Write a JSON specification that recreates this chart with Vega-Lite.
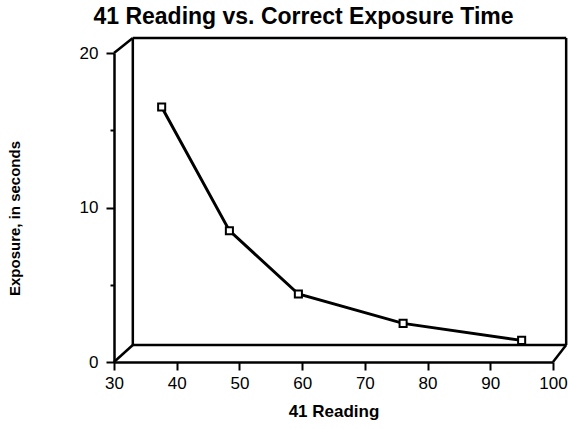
{
  "$schema": "https://vega.github.io/schema/vega-lite/v6.json",
  "width": 439,
  "height": 309,
  "autosize": "none",
  "padding": {"left": 114, "top": 53, "right": 15, "bottom": 67},
  "background": "white",
  "config": {"view": {"stroke": null}, "font": "Liberation Sans"},
  "title": {
    "text": "41 Reading vs. Correct Exposure Time",
    "font": "Liberation Sans",
    "fontSize": 23,
    "fontWeight": "bold",
    "color": "black",
    "anchor": "middle",
    "frame": "group",
    "baseline": "alphabetic",
    "offset": -10,
    "dx": -30
  },
  "datasets": {
    "frame": [
      {"x": 33, "y": 20.97, "x2": 102.1, "y2": 20.97},
      {"x": 102.1, "y": 20.97, "x2": 102.1, "y2": 1.1},
      {"x": 33, "y": 1.1, "x2": 102.1, "y2": 1.1},
      {"x": 33, "y": 1.1, "x2": 33, "y2": 20.97},
      {"x": 30, "y": 20, "x2": 33, "y2": 20.97},
      {"x": 30, "y": 0, "x2": 33, "y2": 1.1},
      {"x": 100, "y": 0, "x2": 102.1, "y2": 1.1}
    ],
    "points": [
      {"reading": 37.6, "exposure": 16.5},
      {"reading": 48.4, "exposure": 8.5},
      {"reading": 59.4, "exposure": 4.4},
      {"reading": 76.1, "exposure": 2.5},
      {"reading": 95.0, "exposure": 1.4}
    ]
  },
  "layer": [
    {
      "data": {"name": "frame"},
      "mark": {"type": "rule", "color": "black", "strokeWidth": 2.5},
      "encoding": {
        "x": {"field": "x", "type": "quantitative", "scale": {"domain": [30, 100], "nice": false, "zero": false}},
        "y": {"field": "y", "type": "quantitative", "scale": {"domain": [0, 20], "nice": false}},
        "x2": {"field": "x2"},
        "y2": {"field": "y2"}
      }
    },
    {
      "data": {"name": "points"},
      "mark": {"type": "line", "color": "black", "strokeWidth": 3},
      "encoding": {
        "x": {
          "field": "reading", "type": "quantitative",
          "axis": {
            "title": "41 Reading",
            "values": [30, 35, 40, 45, 50, 55, 60, 65, 70, 75, 80, 85, 90, 95, 100],
            "labelExpr": "datum.value % 10 === 0 ? datum.label : ''",
            "grid": false,
            "domainColor": "black",
            "domainWidth": 2.5,
            "tickColor": "black",
            "tickWidth": 2,
            "tickSize": {"condition": {"test": "datum.value % 10 === 0", "value": 8}, "value": 6},
            "labelFont": "Liberation Sans",
            "labelFontSize": 17,
            "labelColor": "black",
            "labelPadding": 5,
            "labelFlush": false,
            "labelOverlap": false,
            "titleFont": "Liberation Sans",
            "titleFontSize": 17,
            "titleFontWeight": "bold",
            "titleColor": "black",
            "titlePadding": 12
          }
        },
        "y": {
          "field": "exposure", "type": "quantitative",
          "axis": {
            "title": "Exposure, in seconds",
            "values": [0, 5, 10, 15, 20],
            "labelExpr": "datum.value % 10 === 0 ? datum.label : ''",
            "grid": false,
            "domainColor": "black",
            "domainWidth": 2.5,
            "tickColor": "black",
            "tickWidth": 2,
            "tickSize": {"condition": {"test": "datum.value % 10 === 0", "value": 8}, "value": 4},
            "labelFont": "Liberation Sans",
            "labelFontSize": 17,
            "labelColor": "black",
            "labelPadding": 8,
            "labelFlush": false,
            "labelOverlap": false,
            "titleFont": "Liberation Sans",
            "titleFontSize": 15,
            "titleFontWeight": "bold",
            "titleColor": "black",
            "titleAngle": -90,
            "titleAlign": "center",
            "titleBaseline": "alphabetic",
            "titleX": -95,
            "titleY": 165
          }
        }
      }
    },
    {
      "data": {"name": "points"},
      "mark": {"type": "point", "shape": "square", "size": 50, "filled": false, "fill": "white", "fillOpacity": 1, "stroke": "black", "strokeWidth": 2, "opacity": 1},
      "encoding": {
        "x": {"field": "reading", "type": "quantitative"},
        "y": {"field": "exposure", "type": "quantitative"}
      }
    }
  ]
}
